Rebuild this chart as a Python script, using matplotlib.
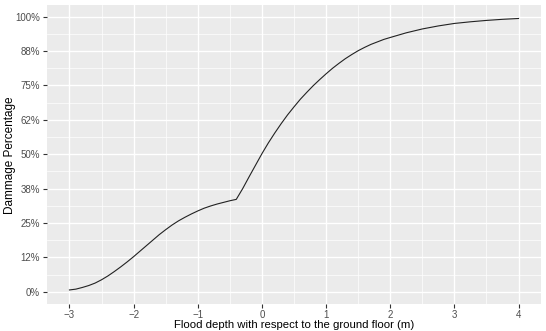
import matplotlib
matplotlib.use("Agg")
from matplotlib import pyplot as plt
from matplotlib.ticker import FixedLocator, MultipleLocator

# curve
depth = [-3.0, -2.9, -2.8, -2.7, -2.6, -2.5, -2.4, -2.3, -2.2, -2.1, -2.0,
         -1.9, -1.8, -1.7, -1.6, -1.5, -1.4, -1.3, -1.2, -1.1, -1.0, -0.9,
         -0.8, -0.7, -0.6, -0.5, -0.4, -0.3, -0.2, -0.1, 0.0, 0.1, 0.2, 0.3,
         0.4, 0.5, 0.6, 0.7, 0.8, 0.9, 1.0, 1.1, 1.2, 1.3, 1.4, 1.5, 1.6,
         1.7, 1.8, 1.9, 2.0, 2.25, 2.5, 2.75, 3.0, 3.25, 3.5, 3.75, 4.0]
damage = [0.007, 0.010, 0.016, 0.023, 0.032, 0.044, 0.058, 0.074, 0.091,
          0.109, 0.128, 0.148, 0.168, 0.188, 0.208, 0.226, 0.243, 0.258,
          0.271, 0.283, 0.294, 0.304, 0.312, 0.319, 0.325, 0.331, 0.336,
          0.375, 0.418, 0.460, 0.502, 0.541, 0.577, 0.611, 0.643, 0.672,
          0.700, 0.725, 0.749, 0.771, 0.792, 0.812, 0.830, 0.847, 0.862,
          0.876, 0.888, 0.899, 0.908, 0.917, 0.924, 0.941, 0.955, 0.966,
          0.975, 0.981, 0.986, 0.990, 0.993]

x_ticks = [-3, -2, -1, 0, 1, 2, 3, 4]
y_ticks = [0, 0.125, 0.25, 0.375, 0.5, 0.625, 0.75, 0.875, 1.0]
y_labels = ['0%', '12%', '25%', '38%', '50%', '62%', '75%', '88%', '100%']

plt.rcParams['font.family'] = ['Liberation Sans', 'DejaVu Sans']

fig = plt.figure(figsize=(5.46, 3.31), dpi=100)
ax = fig.add_axes([47 / 546, 1 - 304 / 331, (541 - 47) / 546, (304 - 5) / 331])
ax.set_facecolor('#EBEBEB')
for s in ax.spines.values():
    s.set_visible(False)

ax.plot(depth, damage, color='#222222', linewidth=0.8, zorder=3)

ax.set_xlim(-3.35, 4.35)
ax.set_ylim(-0.044, 1.042)
ax.xaxis.set_major_locator(FixedLocator(x_ticks))
ax.xaxis.set_minor_locator(MultipleLocator(0.5))
ax.set_yticks(y_ticks)
ax.set_yticklabels(y_labels)
ax.yaxis.set_minor_locator(MultipleLocator(0.0625))

ax.grid(which='major', color='white', linewidth=1.0)
ax.grid(which='minor', color='white', linewidth=0.5)
ax.set_axisbelow(True)
ax.tick_params(which='major', length=3, width=0.8, color='#333333',
               labelsize=7, labelcolor='#4D4D4D', pad=2)
ax.tick_params(axis='x', pad=1)
ax.tick_params(which='minor', length=0)

# x title hugs the bottom edge
fig.text(294 / 546, 0.5 / 331, 'Flood depth with respect to the ground floor (m)',
         ha='center', va='bottom', fontsize=8.2, color='black')
fig.text(10 / 546, 1 - 155 / 331, 'Dammage Percentage', rotation=90,
         ha='center', va='center', fontsize=8.5, color='black')

plt.savefig('out.png', dpi=100)
